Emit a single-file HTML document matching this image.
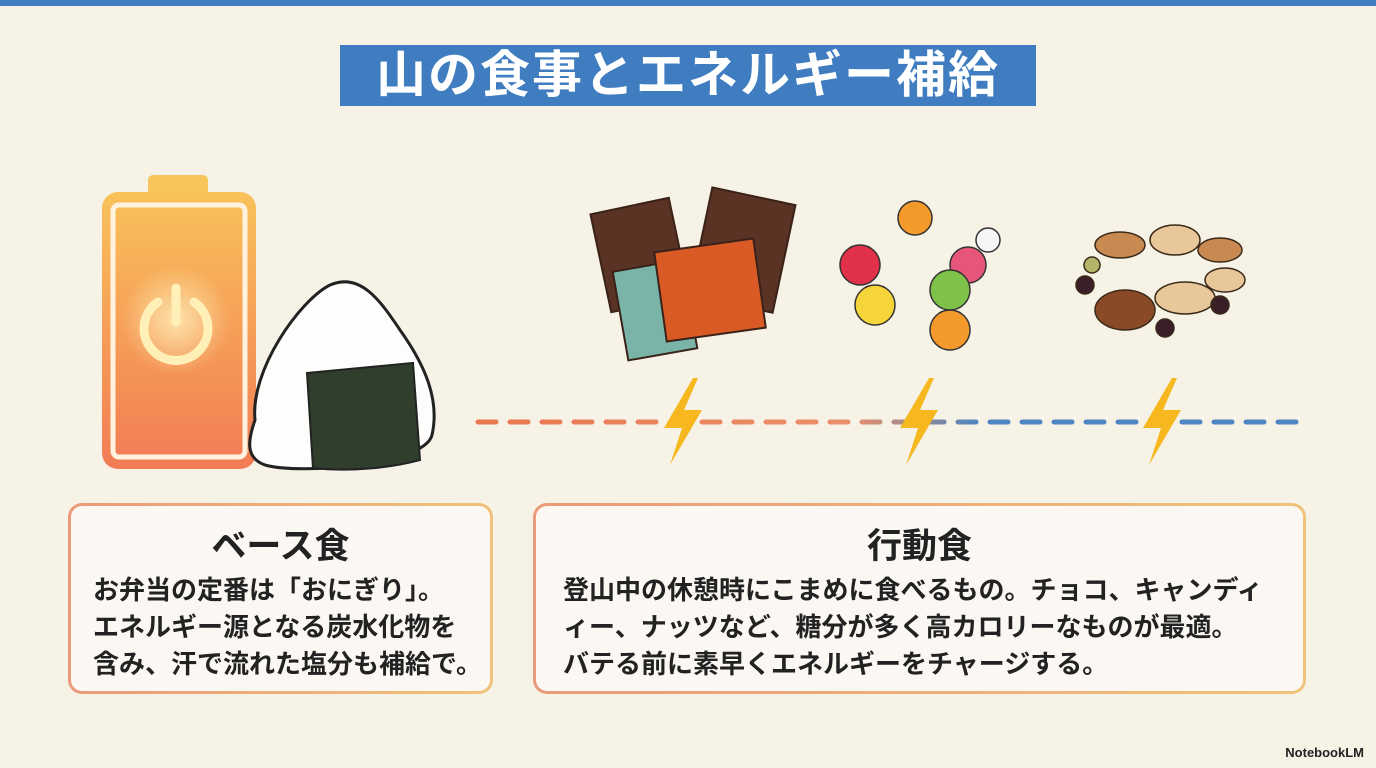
<!DOCTYPE html>
<html><head><meta charset="utf-8"><style>
*{margin:0;padding:0;box-sizing:border-box}
body{width:1376px;height:768px;overflow:hidden;background:#f6f2e6;font-family:"Liberation Sans","Noto Sans CJK JP",sans-serif;position:relative}
.top{position:absolute;left:0;top:0;width:1376px;height:6px;background:#3f7cc0}
.title{position:absolute;left:340px;top:45px;width:696px;height:61px;background:#3f7cc0;color:#fff;font-size:50px;font-weight:700;text-align:center;line-height:61px;letter-spacing:2px}
.box{position:absolute;top:503px;height:191px;border-radius:14px;padding:3px;background:linear-gradient(90deg,#eb9a7a,#f0c27a)}
.box .in{width:100%;height:100%;border-radius:11px;background:#fbf8f3;text-align:center}
.box h2{font-size:35px;font-weight:700;color:#222;padding-top:20px;line-height:42px}
.box p{font-size:26px;font-weight:700;color:#222;line-height:37px;text-align:left;margin-top:4px;white-space:nowrap}
.nlm{position:absolute;right:12px;bottom:8px;font-size:13px;font-weight:700;color:#222}
</style></head><body>
<div class="top"></div>
<div class="title">山の食事とエネルギー補給</div>
<svg width="1376" height="768" style="position:absolute;left:0;top:0">
<defs>
<linearGradient id="bat" x1="0" y1="0" x2="0" y2="1"><stop offset="0" stop-color="#f9c25a"/><stop offset="1" stop-color="#f27b55"/></linearGradient>
<linearGradient id="dash" gradientUnits="userSpaceOnUse" x1="478" y1="0" x2="1310" y2="0"><stop offset="0" stop-color="#e9784f"/><stop offset="0.45" stop-color="#e9906a"/><stop offset="0.6" stop-color="#4f85c0"/><stop offset="1" stop-color="#4f85c0"/></linearGradient>
<radialGradient id="glow"><stop offset="0" stop-color="#fff3c0" stop-opacity="0.8"/><stop offset="1" stop-color="#fff3c0" stop-opacity="0"/></radialGradient>
</defs>
<rect x="148" y="175" width="60" height="22" rx="5" fill="#f8c55d"/>
<rect x="102" y="192" width="154" height="277" rx="16" fill="url(#bat)"/>
<rect x="113" y="205" width="132" height="252" rx="6" fill="none" stroke="#fff3e0" stroke-width="5"/>
<circle cx="176" cy="320" r="55" fill="url(#glow)"/>
<path d="M158 302 A32 32 0 1 0 194 302" fill="none" stroke="#fff0b8" stroke-width="9" stroke-linecap="round"/>
<line x1="176" y1="288" x2="176" y2="322" stroke="#fff0b8" stroke-width="9" stroke-linecap="round"/>
<path d="M255 420 C250 370 300 300 330 285 C360 272 380 300 400 330 C425 365 440 400 432 435 C425 465 300 475 265 465 C245 458 248 440 255 420Z" fill="#fdfdfb" stroke="#222" stroke-width="3"/>
<path d="M307 373 L413 363 L420 460 C390 468 350 472 313 468Z" fill="#2f3f2c" stroke="#222" stroke-width="2"/>
<line x1="478" y1="422" x2="1310" y2="422" stroke="url(#dash)" stroke-width="5" stroke-dasharray="18 14" stroke-linecap="round"/>
<g fill="#f6b81e">
<path d="M693 378 L664 428 L682 428 L670 465 L702 410 L684 410 L698 378Z"/>
<path d="M929 378 L900 428 L918 428 L906 465 L938 410 L920 410 L934 378Z"/>
<path d="M1172 378 L1143 428 L1161 428 L1149 465 L1181 410 L1163 410 L1177 378Z"/>
</g>
<g stroke="#3a2218" stroke-width="2">
<rect x="600" y="205" width="80" height="100" fill="#5a3325" transform="rotate(-12 640 255)"/>
<rect x="620" y="265" width="70" height="90" fill="#7ab3a8" transform="rotate(-10 655 310)"/>
<rect x="700" y="195" width="85" height="110" fill="#5a3325" transform="rotate(12 742 250)"/>
<rect x="660" y="245" width="100" height="90" fill="#d95a25" transform="rotate(-8 710 290)"/>
</g>
<g stroke="#333" stroke-width="1.5">
<circle cx="860" cy="265" r="20" fill="#e0304a"/><circle cx="915" cy="218" r="17" fill="#f39a2a"/>
<circle cx="968" cy="265" r="18" fill="#e8557b"/><circle cx="950" cy="290" r="20" fill="#7ec24a"/>
<circle cx="875" cy="305" r="20" fill="#f5d53a"/><circle cx="950" cy="330" r="20" fill="#f39a2a"/>
<circle cx="988" cy="240" r="12" fill="#f5f5f5"/>
</g>
<g stroke="#3a2a18" stroke-width="1.5">
<ellipse cx="1120" cy="245" rx="25" ry="13" fill="#c98a52"/><ellipse cx="1175" cy="240" rx="25" ry="15" fill="#e8c89a"/>
<ellipse cx="1220" cy="250" rx="22" ry="12" fill="#c98a52"/><ellipse cx="1125" cy="310" rx="30" ry="20" fill="#8a4a28"/>
<ellipse cx="1185" cy="298" rx="30" ry="16" fill="#e8c89a"/><ellipse cx="1225" cy="280" rx="20" ry="12" fill="#e8c89a"/>
<circle cx="1085" cy="285" r="9" fill="#3a1f28"/><circle cx="1165" cy="328" r="9" fill="#3a1f28"/><circle cx="1220" cy="305" r="9" fill="#3a1f28"/><circle cx="1092" cy="265" r="8" fill="#b5b56a"/>
</g>
</svg>
<div class="box" style="left:68px;width:425px"><div class="in"><h2>ベース食</h2><p style="padding-left:22px">お弁当の定番は「おにぎり」。<br>エネルギー源となる炭水化物を<br>含み、汗で流れた塩分も補給で。</p></div></div>
<div class="box" style="left:533px;width:773px"><div class="in"><h2>行動食</h2><p style="padding-left:27px">登山中の休憩時にこまめに食べるもの。チョコ、キャンディ<br>ィー、ナッツなど、糖分が多く高カロリーなものが最適。<br>バテる前に素早くエネルギーをチャージする。</p></div></div>
<div class="nlm">NotebookLM</div>
</body></html>
